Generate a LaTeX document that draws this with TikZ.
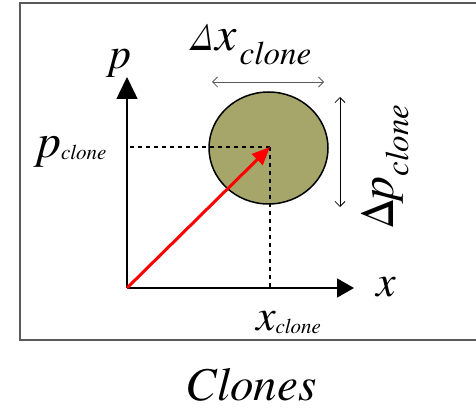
\documentclass[tikz,border=0pt]{standalone}
\usepackage{fontspec}
\setmainfont{TeX Gyre Termes}
\usetikzlibrary{arrows.meta,shapes.geometric}
\definecolor{clonefill}{RGB}{166,166,106}
\definecolor{framegray}{RGB}{90,90,90}
\newcommand\mainsz{\fontsize{44}{48}\selectfont}
\begin{document}
\begin{tikzpicture}[x=1pt,y=-1pt,
  lbl/.style={inner sep=0pt,outer sep=0pt},
  axis/.style={line width=1.5pt},
  guide/.style={dash pattern=on 4pt off 4pt,line width=1.4pt},
  span/.style={line width=0.8pt,{Straight Barb[length=5pt,width=10pt]}-{Straight Barb[length=5pt,width=10pt]}}]
\useasboundingbox (0,0) rectangle (476,411);
\clip (0,0) rectangle (476,411);
% frame
\draw[framegray,line width=1.5pt] (495,3) -- (20,3) -- (20,340) -- (495,340);
% clone blob
\node[ellipse,draw,line width=1.5pt,fill=clonefill,minimum width=119pt,minimum height=112pt,inner sep=0pt] (blob) at (268.5,148) {};
% coordinates
\coordinate (O) at (127,288);
\coordinate (ptip) at (127,77);
\coordinate (xtip) at (354,288);
\coordinate (C) at (270,147);
\coordinate (hstart) at (130,147);
\coordinate (vend) at (270,287);
\coordinate (dxl) at (212,82);
\coordinate (dxr) at (324,82);
\coordinate (dpt) at (340,97);
\coordinate (dpb) at (340,207);
% guides
\draw[guide] (hstart) -- (C);
\draw[guide] (C) -- (vend);
% axes
\draw[axis,-{Triangle[length=22pt,width=21pt]}] (O) -- (ptip);
\draw[axis,-{Triangle[length=17pt,width=19pt]}] (O) -- (xtip);
% phase-space vector
\draw[red,line width=3pt,-{Triangle[length=18pt,width=15pt]}] (O) -- (C);
% widths
\draw[span,framegray] (dxl) -- (dxr);
\draw[span,black] (dpt) -- (dpb);
% labels
\node[lbl,anchor=base] (plab) at (120,69) {\mainsz\itshape p};
\node[lbl,anchor=base west] (dxlab) at (189,51) {{\fontsize{40}{44}\selectfont\itshape Δ}{\fontsize{48}{52}\selectfont\itshape x}\kern3pt\raisebox{-14pt}{\fontsize{33}{36}\selectfont\itshape clone}};
\node[lbl,anchor=base west] (pclab) at (37,158) {{\fontsize{48}{52}\selectfont\itshape p}\raisebox{-2pt}{\fontsize{21}{24}\selectfont\itshape clone}};
\node[lbl,anchor=base west] (xlab) at (376,297) {\mainsz\itshape x};
\node[lbl,anchor=base west] (xclab) at (256,330) {{\mainsz\itshape x}\raisebox{-4pt}{\fontsize{21}{24}\selectfont\itshape clone}};
\node[lbl,anchor=base west,rotate=90] (dplab) at (393,229) {{\mainsz Δ}{\fontsize{48}{52}\selectfont\itshape p}\raisebox{-15pt}{\fontsize{33}{36}\selectfont\itshape clone}};
\node[lbl,anchor=base] (title) at (251,400) {\fontsize{47}{50}\selectfont\itshape Clones};
\end{tikzpicture}
\end{document}
